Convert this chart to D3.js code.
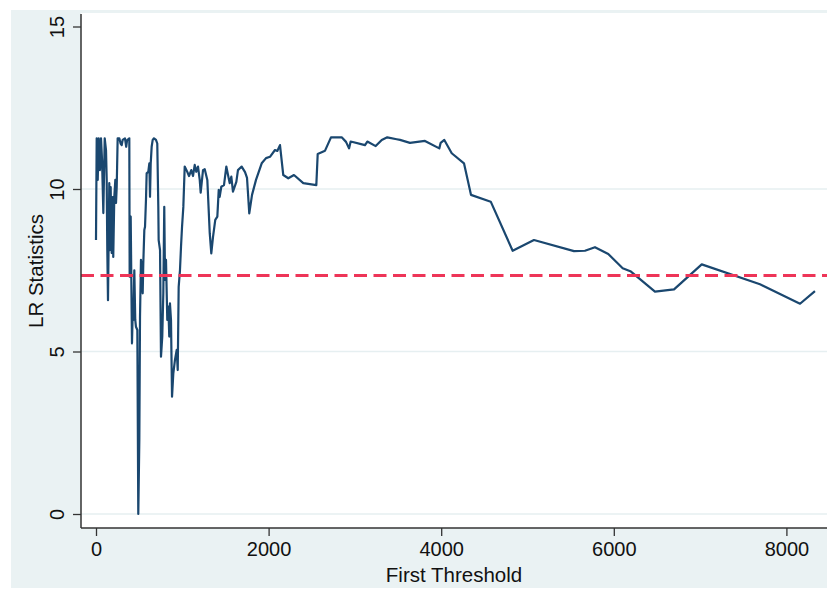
<!DOCTYPE html>
<html>
<head>
<meta charset="utf-8">
<script src="https://cdn.jsdelivr.net/npm/d3@7"></script>
<style>
  body { margin: 0; background: #fff; }
  svg { display: block; font-family: "Liberation Sans", Arial, sans-serif; }
</style>
</head>
<body>
<script>
//-----------------Data----------------
const firstThreshold = [
  0, 8, 20, 31, 46, 58, 70, 85, 101, 116, 124, 131, 139, 154, 162, 170, 182, 193, 200, 212,
  224, 232, 240, 251, 270, 285, 298, 309, 336, 350, 360, 386, 390, 402, 409, 417, 425, 432, 444, 455,
  463, 479, 490, 502, 510, 521, 533, 541, 548, 560, 568, 579, 587, 606, 618, 626, 634, 645, 657, 672,
  695, 710, 722, 726, 742, 753, 768, 780, 791, 800, 811, 826, 838, 849, 857, 869, 881, 896, 915, 935,
  947, 958, 973, 985, 997, 1012, 1028, 1054, 1078, 1104, 1124, 1144, 1162, 1182, 1202, 1213, 1240, 1260, 1290, 1318,
  1336, 1356, 1382, 1406, 1422, 1433, 1452, 1483, 1510, 1549, 1568, 1587, 1626, 1645, 1688, 1727, 1750, 1776, 1808, 1854,
  1920, 1970, 2016, 2074, 2101, 2132, 2170, 2228, 2294, 2402, 2553, 2569, 2654, 2723, 2847, 2897, 2932, 2951, 3117, 3144,
  3241, 3311, 3375, 3484, 3523, 3638, 3812, 3978, 3994, 4036, 4122, 4264, 4345, 4574, 4828, 5075, 5539, 5666, 5782, 5936,
  6103, 6199, 6477, 6698, 7019, 7694, 8158, 8331
];

const lrStatistics = [
  8.43, 11.56, 10.28, 11.56, 10.58, 11.56, 10.89, 9.26, 11.56, 11.2, 10.28, 8.12, 6.58, 10.18, 8.12, 10.06, 8.03, 9.75, 7.91, 9.75,
  10.28, 9.57, 10.06, 11.56, 11.56, 11.4, 11.35, 11.51, 11.56, 11.3, 11.5, 11.56, 7.3, 9.15, 7.3, 5.25, 6.18, 5.97, 7.5, 5.97,
  5.76, 5.66, 0, 2.28, 6.07, 7.82, 7.5, 6.79, 7.71, 8.74, 8.84, 9.66, 10.48, 10.53, 10.79, 9.76, 10.79, 11.3, 11.51, 11.56,
  11.51, 11.4, 9.45, 8.43, 8.12, 4.84, 5.46, 6.79, 9.45, 7.2, 7.82, 5.97, 6.38, 5.46, 6.48, 5.97, 3.61, 4.33, 4.74, 5.05,
  4.43, 6.99, 7.5, 8.22, 8.84, 9.45, 10.69, 10.55, 10.4, 10.58, 10.4, 10.74, 10.53, 10.69, 10.28, 9.89, 10.58, 10.61, 10.28, 8.64,
  8.02, 8.53, 9.05, 9.15, 9.97, 9.76, 10.07, 10.12, 10.69, 10.18, 10.38, 9.92, 10.22, 10.58, 10.69, 10.52, 10.34, 9.25, 9.82, 10.28,
  10.79, 10.95, 10.99, 11.2, 11.17, 11.35, 10.43, 10.33, 10.43, 10.18, 10.12, 11.08, 11.18, 11.59, 11.59, 11.45, 11.25, 11.46, 11.35, 11.46,
  11.32, 11.51, 11.59, 11.53, 11.51, 11.42, 11.48, 11.25, 11.42, 11.51, 11.1, 10.79, 9.82, 9.61, 8.1, 8.43, 8.09, 8.1, 8.21, 8.0,
  7.56, 7.46, 6.84, 6.91, 7.68, 7.07, 6.47, 6.86
];

const criticalValue = 7.34;
const xTicks = [0, 2000, 4000, 6000, 8000];
const yTicks = [0, 5, 10, 15];
const yGrid = [0, 5, 10];

//-----------------Layout----------------
const width = 827;
const height = 590;
const plot = { left: 81, top: 13, right: 827, bottom: 528 };

const svg = d3.select("body").append("svg").attr("width", width).attr("height", height);

// outer graph region
svg.append("rect").attr("x", 11).attr("y", 10).attr("width", width - 11).attr("height", 578).attr("fill", "#eaf2f3");
// plot region
svg.append("rect")
  .attr("x", plot.left).attr("y", plot.top)
  .attr("width", plot.right - plot.left).attr("height", plot.bottom - plot.top)
  .attr("fill", "#ffffff");

//----------------Scaling-----------------
const x = d3.scaleLinear().domain([0, 8000]).range([96, 786.4]);
const y = d3.scaleLinear().domain([0, 15]).range([514, 26.5]);

svg.append("clipPath").attr("id", "clip")
  .append("rect")
  .attr("x", plot.left).attr("y", plot.top)
  .attr("width", plot.right - plot.left).attr("height", plot.bottom - plot.top);

// gridlines
svg.selectAll(".grid")
  .data(yGrid)
  .enter()
  .append("line")
  .attr("class", "grid")
  .attr("x1", plot.left).attr("x2", plot.right)
  .attr("y1", (d) => y(d)).attr("y2", (d) => y(d))
  .attr("stroke", "#e6eff1")
  .attr("stroke-width", 1.6);

//----------------Line-----------------
const points = firstThreshold.map((t, i) => [t, lrStatistics[i]]);

const line = d3.line()
  .x((d) => x(d[0]))
  .y((d) => y(d[1]));

svg.append("path")
  .datum(points)
  .attr("clip-path", "url(#clip)")
  .attr("d", line)
  .attr("fill", "none")
  .attr("stroke", "#1a476f")
  .attr("stroke-width", 2.2)
  .attr("stroke-linejoin", "round");

// critical value
svg.append("line")
  .attr("x1", plot.left).attr("x2", plot.right)
  .attr("y1", y(criticalValue)).attr("y2", y(criticalValue))
  .attr("stroke", "#ee3558")
  .attr("stroke-width", 3)
  .attr("stroke-dasharray", "13,6.5");

//----------------Axes-----------------
const xAxis = svg.append("g")
  .attr("transform", `translate(0,${plot.bottom})`)
  .call(d3.axisBottom(x).tickValues(xTicks).tickSize(8).tickPadding(6).tickFormat(d3.format("d")));
xAxis.select(".domain").remove();
xAxis.selectAll("line").attr("stroke", "#333").attr("stroke-width", 1.3);
xAxis.selectAll("text").attr("font-size", 20).attr("fill", "#111").attr("font-family", "Liberation Sans, Arial, sans-serif");

const yAxis = svg.append("g")
  .attr("transform", `translate(${plot.left},0)`)
  .call(d3.axisLeft(y).tickValues(yTicks).tickSize(8).tickFormat(d3.format("d")));
yAxis.select(".domain").remove();
yAxis.selectAll("line").attr("stroke", "#333").attr("stroke-width", 1.3);
yAxis.selectAll("text")
  .attr("font-size", 20).attr("fill", "#111").attr("font-family", "Liberation Sans, Arial, sans-serif")
  .attr("x", null).attr("dy", null)
  .attr("text-anchor", "middle")
  .attr("transform", "translate(-17.5,0) rotate(-90)");

// axis lines
svg.append("line")
  .attr("x1", plot.left).attr("x2", plot.left)
  .attr("y1", plot.top + 1).attr("y2", plot.bottom)
  .attr("stroke", "#333").attr("stroke-width", 1.5);
svg.append("line")
  .attr("x1", plot.left).attr("x2", plot.right)
  .attr("y1", plot.bottom).attr("y2", plot.bottom)
  .attr("stroke", "#333").attr("stroke-width", 1.5);

//------------Titles--------------
svg.append("text")
  .attr("x", (plot.left + plot.right) / 2)
  .attr("y", 582)
  .attr("text-anchor", "middle")
  .attr("font-size", 20.5)
  .attr("fill", "#111")
  .text("First Threshold");

svg.append("text")
  .attr("transform", `translate(43,271) rotate(-90)`)
  .attr("text-anchor", "middle")
  .attr("font-size", 20.5)
  .attr("fill", "#111")
  .text("LR Statistics");
</script>
</body>
</html>
